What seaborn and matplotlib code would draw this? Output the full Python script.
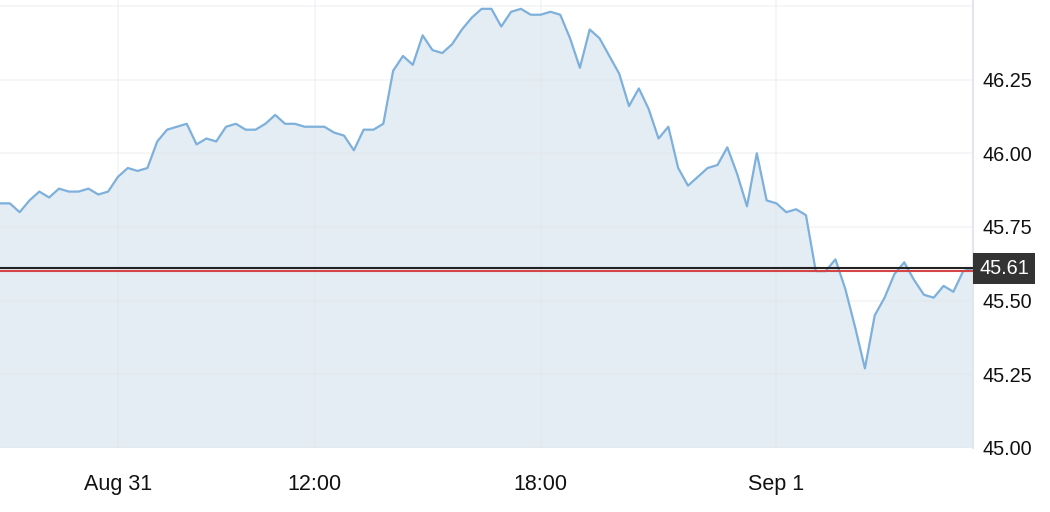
import numpy as np
import pandas as pd
import seaborn as sns
import matplotlib.pyplot as plt

# prix (pas régulier)
prices = [
    45.83, 45.83, 45.80, 45.84, 45.87, 45.85, 45.88, 45.87, 45.87, 45.88,
    45.86, 45.87, 45.92, 45.95, 45.94, 45.95, 46.04, 46.08, 46.09, 46.10,
    46.03, 46.05, 46.04, 46.09, 46.10, 46.08, 46.08, 46.10, 46.13, 46.10,
    46.10, 46.09, 46.09, 46.09, 46.07, 46.06, 46.01, 46.08, 46.08, 46.10,
    46.28, 46.33, 46.30, 46.40, 46.35, 46.34, 46.37, 46.42, 46.46, 46.49,
    46.49, 46.43, 46.48, 46.49, 46.47, 46.47, 46.48, 46.47, 46.39, 46.29,
    46.42, 46.39, 46.33, 46.27, 46.16, 46.22, 46.15, 46.05, 46.09, 45.95,
    45.89, 45.92, 45.95, 45.96, 46.02, 45.93, 45.82, 46.00, 45.84, 45.83,
    45.80, 45.81, 45.79, 45.60, 45.60, 45.64, 45.54, 45.41, 45.27, 45.45,
    45.51, 45.59, 45.63, 45.57, 45.52, 45.51, 45.55, 45.53, 45.60, 45.61,
]
tick_pos = [12, 32, 55, 79]
tick_labels = ["Aug 31", "12:00", "18:00", "Sep 1"]
y_ticks = [45.00, 45.25, 45.50, 45.75, 46.00, 46.25]
last_price = 45.61
ref_price = 45.60

df = pd.DataFrame({"i": np.arange(len(prices)), "price": prices})

sns.set_style("white")
plt.rcParams["font.family"] = ["Liberation Sans", "DejaVu Sans"]

fig = plt.figure(figsize=(10.5, 5.12), dpi=100)
ax = fig.add_axes([0.0, 0.125, 0.9267, 0.875])

ax.fill_between(df["i"], df["price"], 44, color="#e4edf3", zorder=1)
sns.lineplot(data=df, x="i", y="price", color="#7eb0dc", linewidth=1.6, ax=ax, zorder=4)

# grille
for y in y_ticks + [46.5]:
    ax.axhline(y, color="#dfe3e8", alpha=0.35, linewidth=1.2, zorder=2)
for x in tick_pos:
    ax.axvline(x, color="#dfe3e8", alpha=0.35, linewidth=1.2, zorder=2)

ax.axhline(last_price, color="#222222", linewidth=1.5, zorder=5)
ax.axhline(ref_price, color="#d64545", linewidth=1.5, zorder=5)

ax.set_xlim(0, len(prices) - 1)
ax.set_ylim(45.0, 46.52)
ax.set_xticks(tick_pos)
ax.set_xticklabels(tick_labels)
ax.set_yticks(y_ticks)
ax.set_yticklabels([f"{v:.2f}" for v in y_ticks])
ax.yaxis.tick_right()
ax.tick_params(axis="y", length=0, pad=6.5, labelsize=14.3, colors="#111111")
ax.tick_params(axis="x", length=0, pad=18.5, labelsize=15.5, colors="#111111")
ax.set_xlabel("")
ax.set_ylabel("")

for s in ["top", "left", "bottom"]:
    ax.spines[s].set_visible(False)
ax.spines["right"].set_color("#e3e7ec")
ax.spines["right"].set_linewidth(1.5)

ax.annotate(f"{last_price:.2f}", xy=(1.0, last_price), xycoords=("axes fraction", "data"),
            xytext=(4.3, 0), textcoords="offset points", ha="left", va="center",
            fontsize=14.3, color="white", zorder=10, annotation_clip=False,
            bbox=dict(boxstyle="square,pad=0.3", fc="#333333", ec="none"))

fig.savefig("out.png", dpi=100)
